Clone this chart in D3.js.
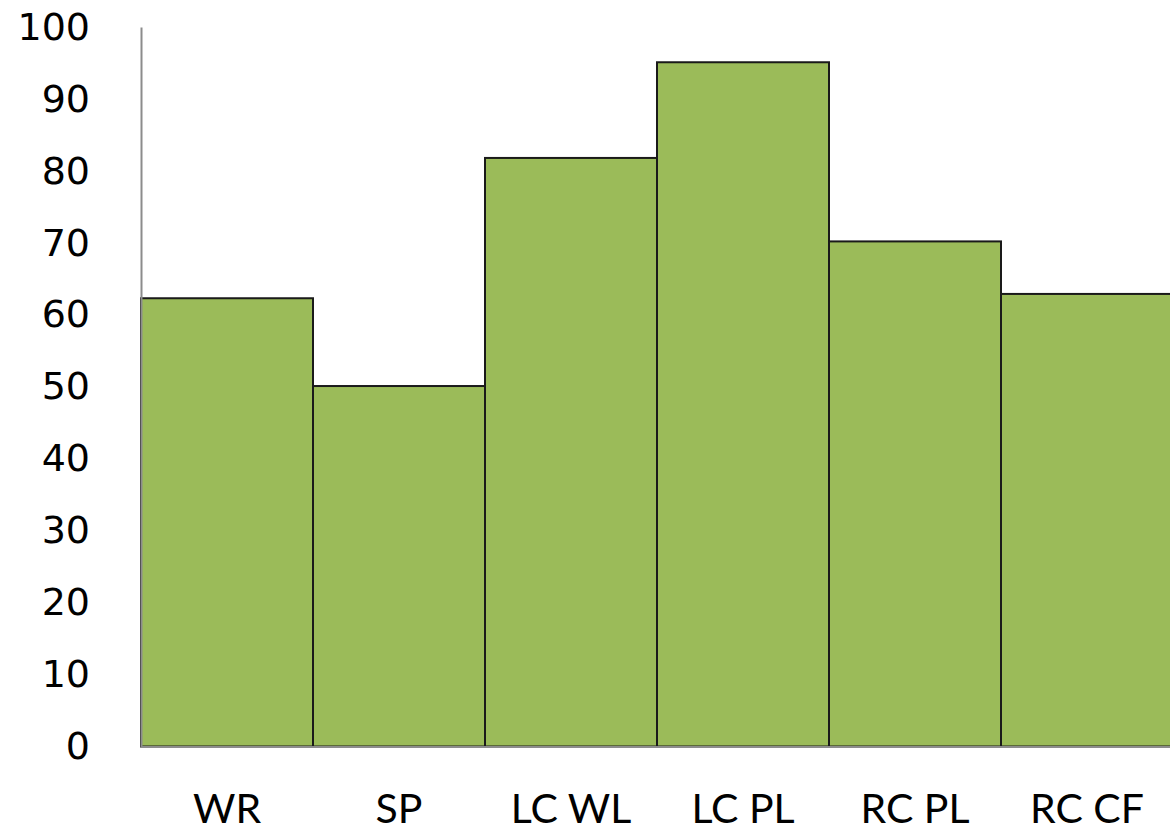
<!DOCTYPE html>
<html><head><meta charset="utf-8">
<script src="https://cdn.jsdelivr.net/npm/d3@7"></script>
<style>html,body{margin:0;padding:0;background:#fff;overflow:hidden}</style>
</head><body>
<svg id="c" width="1170" height="834"></svg>
<script>
const categories = ["WR", "SP", "LC WL", "LC PL", "RC PL", "RC CF"];
const values = [62.3, 50.1, 81.8, 95.1, 70.2, 62.9];
const yTicks = [0, 10, 20, 30, 40, 50, 60, 70, 80, 90, 100];

const svg = d3.select("#c");
const x = d3.scaleBand().domain(categories).range([141, 1173]).padding(0);
const y = d3.scaleLinear().domain([0, 100]).range([746.5, 27]);

svg.selectAll("rect.bar").data(values).enter().append("rect")
  .attr("class", "bar")
  .attr("x", (d, i) => x(categories[i]))
  .attr("y", d => y(d))
  .attr("width", x.bandwidth())
  .attr("height", d => y(0) - y(d))
  .attr("fill", "#9BBB59")
  .attr("stroke", "#1a1a1a")
  .attr("stroke-width", 2);

// y axis
const yAxis = d3.axisLeft(y).tickValues(yTicks).tickSize(0).tickPadding(51);
const gy = svg.append("g").attr("transform", "translate(141,0)").call(yAxis);
gy.select(".domain").attr("stroke", "#8c8c8c").attr("stroke-width", 2);
gy.selectAll("text").attr("font-family", "'DejaVu Sans', Verdana, sans-serif")
  .attr("font-size", 38).attr("fill", "#000");

// x axis
const xAxis = d3.axisBottom(x).tickSize(0).tickPadding(47);
const gx = svg.append("g").attr("transform", "translate(0,746.5)").call(xAxis);
gx.select(".domain").attr("stroke", "#8c8c8c").attr("stroke-width", 2);
gx.selectAll("text").attr("font-family", "Lato, 'Open Sans', sans-serif")
  .attr("font-size", 41).attr("fill", "#000");
</script>
</body></html>
